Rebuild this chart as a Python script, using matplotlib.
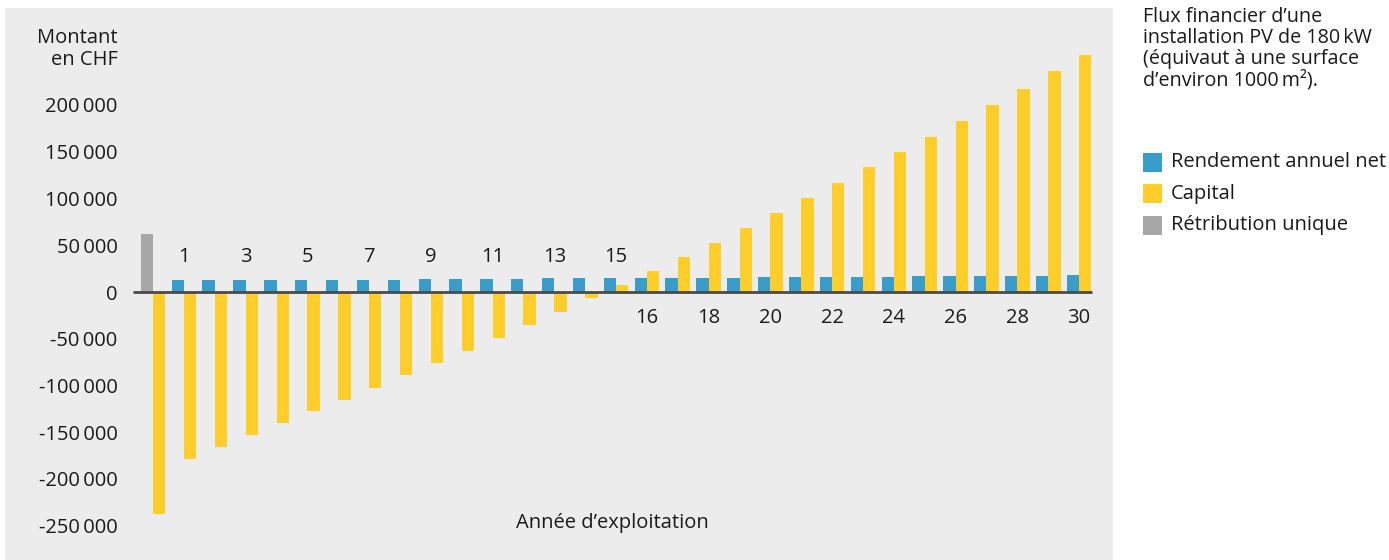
import matplotlib.pyplot as plt
from matplotlib.patches import Rectangle

plt.rcParams['font.family'] = ['Open Sans', 'DejaVu Sans']

# years of operation
years = list(range(0, 31))

# one-off subsidy in year 0
retribution_year = 0
retribution_value = 62000

# net annual yield (years 1..30)
rendement = [13100, 13100, 13100, 13100, 13100, 13100, 13100, 13100,
             14300, 14300, 14300, 14300, 15000, 15000, 15000,
             15000, 15000, 15000, 15000, 16200, 16200, 16200, 16200, 16200,
             17400, 17400, 17400, 17400, 17400, 18500]

# cumulative capital (years 0..30)
capital = [-237600, -178600, -165800, -153400, -140600, -127800, -115400, -102600,
           -89100, -76300, -62800, -48900, -35300, -21800, -6800,
           7700, 22800, 37800, 52900, 68300, 84600, 100800, 117000, 133200,
           149400, 165600, 182600, 200000, 217400, 235900, 254000]

yticks = [200000, 150000, 100000, 50000, 0, -50000, -100000, -150000, -200000, -250000]
ytick_labels = [f"{v // 1000}\u2009000" if v > 0 else
                (f"-{-v // 1000}\u2009000" if v < 0 else "0") for v in yticks]

top_labels = [1, 3, 5, 7, 9, 11, 13, 15]
bottom_labels = [16, 18, 20, 22, 24, 26, 28, 30]

BLUE = "#3A9CC9"
YELLOW = "#FFCE2B"
GREY = "#A7A7A7"
BG = "#ECECEC"
TXT = "#1a1a1a"
FS = 14.5

W, H = 1389, 560
fig = plt.figure(figsize=(W / 100, H / 100), dpi=100)
fig.patches.append(Rectangle((5 / W, 0), (1113 - 5) / W, (H - 8) / H,
                             transform=fig.transFigure, facecolor=BG,
                             edgecolor="none", zorder=-10))

ax = fig.add_axes([133 / W, 0, (1113 - 133) / W, (H - 8) / H])
ax.set_zorder(1)
ax.set_facecolor("none")

px_per_50k = 46.75
ax.set_ylim(-(560 - 292) / px_per_50k * 50000, (292 - 8) / px_per_50k * 50000)
ax.set_xlim(-0.65, 31.1)

bw = 0.4
ax.bar(retribution_year - bw / 2, retribution_value, width=bw, color=GREY, zorder=2)
ax.bar([y - bw / 2 for y in years[1:]], rendement, width=bw, color=BLUE, zorder=2)
ax.bar([y + bw / 2 for y in years], capital, width=bw, color=YELLOW, zorder=2)
ax.hlines(0, -0.65, 30.42, color="#4a4a4a", linewidth=2, zorder=3)

for s in ax.spines.values():
  s.set_visible(False)
ax.set_xticks([])
ax.set_yticks(yticks)
ax.set_yticklabels(ytick_labels, fontsize=FS, color=TXT)
ax.tick_params(axis="y", length=0, pad=11)

for y in top_labels:
  ax.annotate(str(y), (y, 0), xytext=(0, 25), textcoords="offset points",
              ha="center", va="center", fontsize=FS, color=TXT)
for y in bottom_labels:
  ax.annotate(str(y), (y, 0), xytext=(0, -19), textcoords="offset points",
              ha="center", va="center", fontsize=FS, color=TXT)

fig.text(118 / W, 1 - 49 / H, "Montant\nen CHF", ha="right", va="center",
         fontsize=FS, color=TXT, linespacing=1.15)
fig.text(612 / W, 1 - 523 / H, "Année d\u2019exploitation", ha="center", va="center",
         fontsize=FS, color=TXT)

fig.text(1143 / W, 1 - 7 / H,
         "Flux financier d\u2019une\ninstallation PV de 180\u2009kW\n"
         "(équivaut à une surface\nd\u2019environ 1000\u2009m²).",
         ha="left", va="top", fontsize=14.2, color=TXT, linespacing=1.06)

legend_items = [("Rendement annuel net", BLUE), ("Capital", YELLOW), ("Rétribution unique", GREY)]
for i, (lab, col) in enumerate(legend_items):
  yc = 162 + i * 31.5
  fig.patches.append(Rectangle((1143 / W, 1 - (yc + 9.5) / H), 19 / W, 19 / H,
                               transform=fig.transFigure, facecolor=col,
                               edgecolor="none"))
  fig.text(1171 / W, 1 - yc / H, lab, ha="left", va="center", fontsize=FS, color=TXT)

fig.savefig("out.png", dpi=100)
